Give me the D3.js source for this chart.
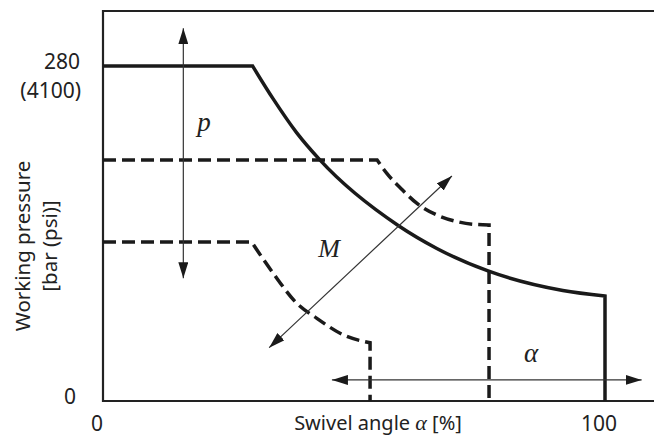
<!DOCTYPE html>
<html>
<head>
<meta charset="utf-8">
<script src="https://cdn.jsdelivr.net/npm/d3@7"></script>
<style>
  body { margin: 0; background: #fff; }
  svg { display: block; }
  .tick-label { font-family: "Noto Sans", sans-serif; font-size: 21px; fill: #222; }
  .axis-title { font-family: "Noto Sans", sans-serif; font-size: 20.5px; fill: #222; }
  .x-title { font-family: "Noto Sans", sans-serif; font-size: 20px; fill: #222; }
  .greek { font-family: "Liberation Serif", serif; font-style: italic; fill: #222; }
</style>
</head>
<body>
<svg width="654" height="436"></svg>
<script>
// tick values
const xTicks = [0, 100];
const yTicks = [0, 280];
const yTickPsi = ["", "(4100)"];

// solid curve: max power limit (angle %, pressure bar)
const solidFlatAngle = [0, 29.8];
const solidFlatPressure = [280, 280];
const solidCurveAngle = [29.8, 33.9, 38.6, 43.2, 58.8, 66.5, 76.7, 91.6, 100];
const solidCurvePressure = [280, 252.5, 224.1, 201.5, 146.7, 127.5, 108.7, 92.4, 87.8];

// upper dashed curve
const dashAFlatAngle = [0, 54.6];
const dashAFlatPressure = [201.5, 201.5];
const dashACurveAngle = [54.6, 56.5, 59.5, 62.5, 66.5, 70, 74.4, 76.9];
const dashACurvePressure = [201.5, 190.4, 177, 165.3, 155.5, 150.5, 147.5, 147.2];

// lower dashed curve
const dashBFlatAngle = [0, 29.6];
const dashBFlatPressure = [132.9, 132.9];
const dashBCurveAngle = [29.6, 33.9, 38.6, 42.6, 47.9, 53.2];
const dashBCurvePressure = [132.9, 106.8, 81.7, 69.1, 55.2, 48.7];

// annotation arrows (data units)
const arrowP = [[16, 311.6], [16, 102.6]];
const arrowM = [[33.1, 44.6], [69.5, 188.1]];
const arrowAlpha = [[45.6, 17.6], [107.3, 17.6]];

const width = 654, height = 436;
const svg = d3.select("svg");

const x = d3.scaleLinear().domain([0, 100]).range([103, 605]);
const y = d3.scaleLinear().domain([0, 280]).range([401, 66]);

const zip = (a, b) => a.map((v, i) => [v, b[i]]);

const linear = d3.line().x(d => x(d[0])).y(d => y(d[1]));
const monotone = d3.line().x(d => x(d[0])).y(d => y(d[1])).curve(d3.curveMonotoneX);

// joins flat part, curved part and vertical drop into one path
function limitPath(flatA, flatP, curveA, curveP) {
  const last = curveA.length - 1;
  const drop = [[curveA[last], curveP[last]], [curveA[last], 0]];
  return linear(zip(flatA, flatP)) +
    monotone(zip(curveA, curveP)).replace(/^M/, "L") +
    linear(drop).replace(/^M/, "L");
}

// frame
svg.append("path")
  .attr("d", `M${width},${11}H${x(0)}V${y(0)}H${width}`)
  .attr("fill", "none")
  .attr("stroke", "#222")
  .attr("stroke-width", 2.2);

// limit curves
svg.append("path")
  .attr("d", limitPath(dashAFlatAngle, dashAFlatPressure, dashACurveAngle, dashACurvePressure))
  .attr("fill", "none").attr("stroke", "#1a1a1a").attr("stroke-width", 3.5)
  .attr("stroke-dasharray", "13,6");

svg.append("path")
  .attr("d", limitPath(dashBFlatAngle, dashBFlatPressure, dashBCurveAngle, dashBCurvePressure))
  .attr("fill", "none").attr("stroke", "#1a1a1a").attr("stroke-width", 3.5)
  .attr("stroke-dasharray", "13,6");

svg.append("path")
  .attr("d", limitPath(solidFlatAngle, solidFlatPressure, solidCurveAngle, solidCurvePressure))
  .attr("fill", "none").attr("stroke", "#1a1a1a").attr("stroke-width", 3.5)
  .attr("stroke-linejoin", "miter");

// arrowheads
svg.append("defs").append("marker")
  .attr("id", "head")
  .attr("viewBox", "0 0 16 10")
  .attr("refX", 16).attr("refY", 5)
  .attr("markerWidth", 16).attr("markerHeight", 10)
  .attr("markerUnits", "userSpaceOnUse")
  .attr("orient", "auto-start-reverse")
  .append("path")
  .attr("d", "M0,0L16,5L0,10Z")
  .attr("fill", "#1a1a1a");

[arrowP, arrowM, arrowAlpha].forEach(a => {
  svg.append("path")
    .attr("d", linear(a))
    .attr("fill", "none")
    .attr("stroke", "#333")
    .attr("stroke-width", 1.2)
    .attr("marker-start", "url(#head)")
    .attr("marker-end", "url(#head)");
});

// annotation letters
svg.append("text").attr("class", "greek")
  .attr("x", 204).attr("y", 131)
  .attr("text-anchor", "middle").style("font-size", "27px")
  .text("p");
svg.append("text").attr("class", "greek")
  .attr("x", 329).attr("y", 257)
  .attr("text-anchor", "middle").style("font-size", "26px")
  .text("M");
svg.append("text").attr("class", "greek")
  .attr("x", 531).attr("y", 362)
  .attr("text-anchor", "middle").style("font-size", "27px")
  .text("α");

// x tick labels
svg.selectAll(".xt").data(xTicks).enter().append("text")
  .attr("class", "tick-label")
  .attr("x", d => x(d) - 6)
  .attr("y", 431)
  .attr("text-anchor", "middle")
  .text(d => d);

// y tick labels
yTicks.forEach((v, i) => {
  svg.append("text").attr("class", "tick-label")
    .attr("x", v === 0 ? 76 : 80).attr("y", y(v) + 3)
    .attr("text-anchor", "end")
    .text(v);
  if (yTickPsi[i]) {
    svg.append("text").attr("class", "tick-label")
      .attr("x", 81).attr("y", y(v) + 32)
      .text(yTickPsi[i])
      .attr("text-anchor", "end");
  }
});

// axis titles
const xt = svg.append("text").attr("class", "x-title")
  .attr("x", 378).attr("y", 430)
  .attr("text-anchor", "middle");
xt.append("tspan").text("Swivel angle ");
xt.append("tspan").attr("class", "greek").style("font-size", "22px").text("α");
xt.append("tspan").text(" [%]");

const yt = svg.append("text").attr("class", "axis-title")
  .attr("transform", "translate(0,246) rotate(-90)")
  .attr("text-anchor", "middle");
yt.append("tspan").attr("x", 0).attr("y", 30).text("Working pressure");
yt.append("tspan").attr("x", 0).attr("y", 57).text("[bar (psi)]");
</script>
</body>
</html>
